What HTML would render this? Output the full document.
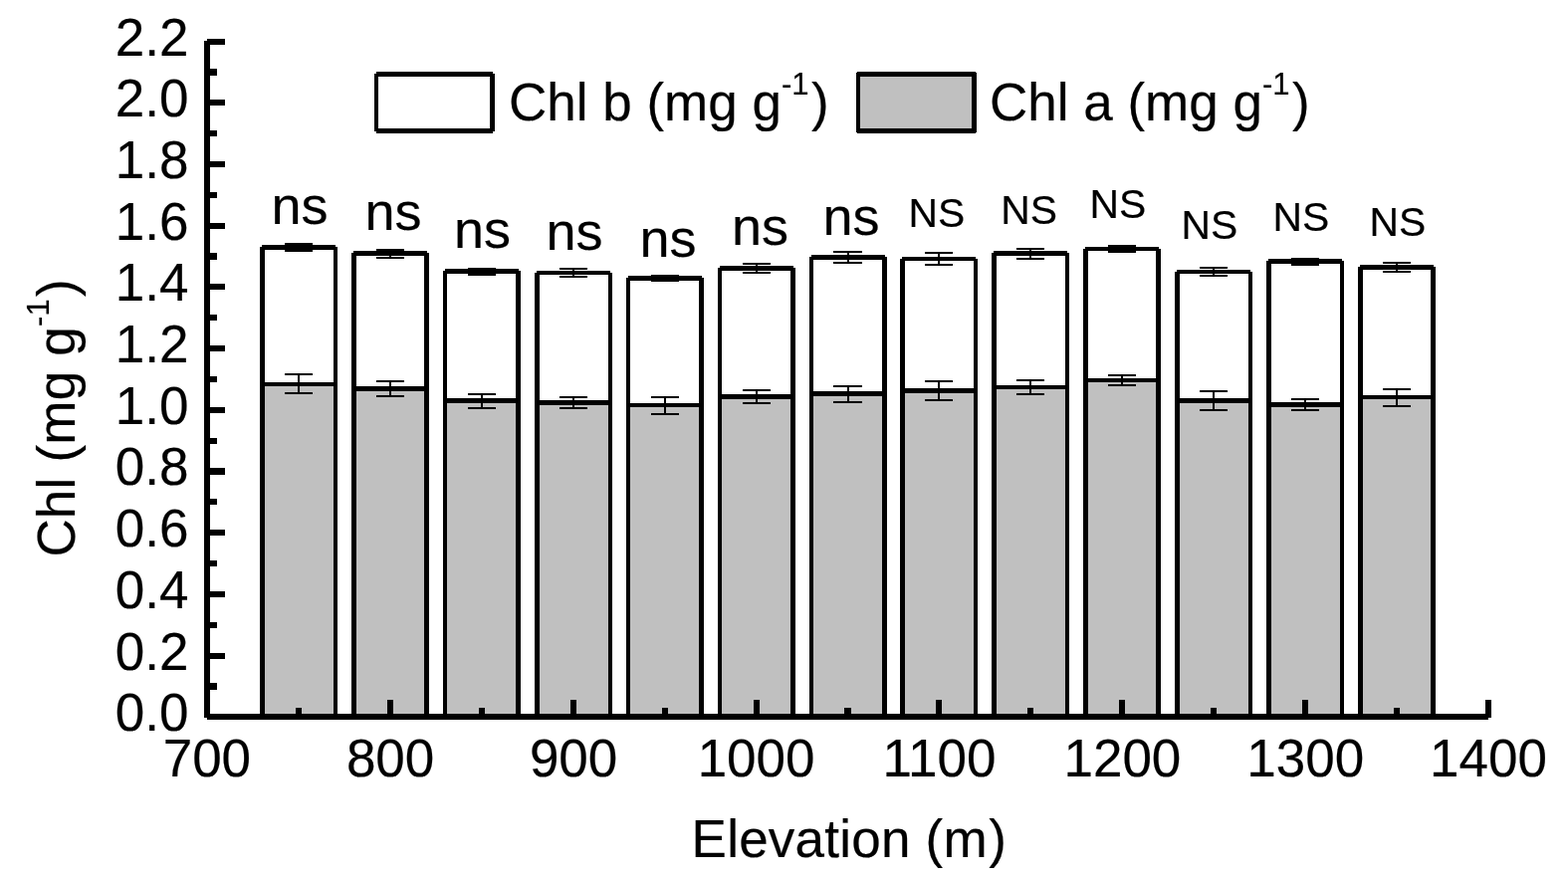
<!DOCTYPE html>
<html lang="en">
<head>
<meta charset="utf-8">
<title>Chl vs Elevation</title>
<style>
html,body{margin:0;padding:0;background:#fff;}
body{width:1575px;height:883px;overflow:hidden;}
svg{display:block;}
text{font-family:"Liberation Sans",Arial,Helvetica,sans-serif;fill:#000;stroke:#000;stroke-width:0.2px;}
.t{font-size:53px;}
.sup{font-size:31px;}
.ns{font-size:54px;}
.NS{font-size:40.8px;}
</style>
</head>
<body>
<svg width="1575" height="883" viewBox="0 0 1575 883">
<rect x="0" y="0" width="1575" height="883" fill="#fff"/>

<g shape-rendering="crispEdges" fill="#000">
<rect x="261" y="246" width="78" height="474"/>
<rect x="261" y="246" width="2" height="2" fill="#fff"/>
<rect x="337" y="246" width="2" height="2" fill="#fff"/>
<rect x="266" y="251" width="69" height="133" fill="#fff"/>
<rect x="266" y="388" width="69" height="330" fill="#c0c0c0"/>
<rect x="353" y="252" width="78" height="468"/>
<rect x="353" y="252" width="2" height="2" fill="#fff"/>
<rect x="429" y="252" width="2" height="2" fill="#fff"/>
<rect x="358" y="257" width="68" height="131" fill="#fff"/>
<rect x="358" y="393" width="68" height="325" fill="#c0c0c0"/>
<rect x="445" y="270" width="78" height="450"/>
<rect x="445" y="270" width="2" height="2" fill="#fff"/>
<rect x="521" y="270" width="2" height="2" fill="#fff"/>
<rect x="449" y="275" width="69" height="125" fill="#fff"/>
<rect x="449" y="405" width="69" height="313" fill="#c0c0c0"/>
<rect x="537" y="272" width="78" height="448"/>
<rect x="537" y="272" width="2" height="2" fill="#fff"/>
<rect x="613" y="272" width="2" height="2" fill="#fff"/>
<rect x="542" y="276" width="69" height="126" fill="#fff"/>
<rect x="542" y="407" width="69" height="311" fill="#c0c0c0"/>
<rect x="629" y="277" width="78" height="443"/>
<rect x="629" y="277" width="2" height="2" fill="#fff"/>
<rect x="705" y="277" width="2" height="2" fill="#fff"/>
<rect x="633" y="282" width="69" height="123" fill="#fff"/>
<rect x="633" y="409" width="69" height="309" fill="#c0c0c0"/>
<rect x="721" y="267" width="78" height="453"/>
<rect x="721" y="267" width="2" height="2" fill="#fff"/>
<rect x="797" y="267" width="2" height="2" fill="#fff"/>
<rect x="725" y="272" width="69" height="124" fill="#fff"/>
<rect x="725" y="401" width="69" height="317" fill="#c0c0c0"/>
<rect x="813" y="256" width="78" height="464"/>
<rect x="813" y="256" width="2" height="2" fill="#fff"/>
<rect x="889" y="256" width="2" height="2" fill="#fff"/>
<rect x="817" y="261" width="69" height="132" fill="#fff"/>
<rect x="817" y="398" width="69" height="320" fill="#c0c0c0"/>
<rect x="904" y="258" width="78" height="462"/>
<rect x="904" y="258" width="2" height="2" fill="#fff"/>
<rect x="980" y="258" width="2" height="2" fill="#fff"/>
<rect x="909" y="262" width="69" height="128" fill="#fff"/>
<rect x="909" y="395" width="69" height="323" fill="#c0c0c0"/>
<rect x="996" y="252" width="78" height="468"/>
<rect x="996" y="252" width="2" height="2" fill="#fff"/>
<rect x="1072" y="252" width="2" height="2" fill="#fff"/>
<rect x="1001" y="257" width="69" height="130" fill="#fff"/>
<rect x="1001" y="391" width="69" height="327" fill="#c0c0c0"/>
<rect x="1088" y="248" width="78" height="472"/>
<rect x="1088" y="248" width="2" height="2" fill="#fff"/>
<rect x="1164" y="248" width="2" height="2" fill="#fff"/>
<rect x="1093" y="252" width="68" height="128" fill="#fff"/>
<rect x="1093" y="384" width="68" height="334" fill="#c0c0c0"/>
<rect x="1180" y="271" width="78" height="449"/>
<rect x="1180" y="271" width="2" height="2" fill="#fff"/>
<rect x="1256" y="271" width="2" height="2" fill="#fff"/>
<rect x="1185" y="275" width="69" height="125" fill="#fff"/>
<rect x="1185" y="405" width="69" height="313" fill="#c0c0c0"/>
<rect x="1272" y="260" width="78" height="460"/>
<rect x="1272" y="260" width="2" height="2" fill="#fff"/>
<rect x="1348" y="260" width="2" height="2" fill="#fff"/>
<rect x="1277" y="265" width="69" height="139" fill="#fff"/>
<rect x="1277" y="409" width="69" height="309" fill="#c0c0c0"/>
<rect x="1364" y="266" width="78" height="454"/>
<rect x="1364" y="266" width="2" height="2" fill="#fff"/>
<rect x="1440" y="266" width="2" height="2" fill="#fff"/>
<rect x="1369" y="271" width="68" height="126" fill="#fff"/>
<rect x="1369" y="401" width="68" height="317" fill="#c0c0c0"/>
</g>
<g shape-rendering="crispEdges" fill="#000">
<rect x="286" y="244" width="28" height="2"/>
<rect x="286" y="251" width="28" height="2"/>
<rect x="299" y="244" width="2" height="9"/>
<rect x="286" y="375" width="28" height="2"/>
<rect x="286" y="394" width="28" height="2"/>
<rect x="299" y="375" width="2" height="21"/>
<rect x="378" y="250" width="28" height="2"/>
<rect x="378" y="258" width="28" height="2"/>
<rect x="391" y="250" width="2" height="10"/>
<rect x="378" y="382" width="28" height="2"/>
<rect x="378" y="397" width="28" height="2"/>
<rect x="391" y="382" width="2" height="17"/>
<rect x="470" y="269" width="28" height="2"/>
<rect x="470" y="275" width="28" height="2"/>
<rect x="483" y="269" width="2" height="8"/>
<rect x="470" y="395" width="28" height="2"/>
<rect x="470" y="409" width="28" height="2"/>
<rect x="483" y="395" width="2" height="16"/>
<rect x="562" y="269" width="28" height="2"/>
<rect x="562" y="277" width="28" height="2"/>
<rect x="575" y="269" width="2" height="10"/>
<rect x="562" y="398" width="28" height="2"/>
<rect x="562" y="409" width="28" height="2"/>
<rect x="575" y="398" width="2" height="13"/>
<rect x="654" y="276" width="28" height="2"/>
<rect x="654" y="281" width="28" height="2"/>
<rect x="667" y="276" width="2" height="7"/>
<rect x="654" y="398" width="28" height="2"/>
<rect x="654" y="415" width="28" height="2"/>
<rect x="667" y="398" width="2" height="19"/>
<rect x="746" y="264" width="28" height="2"/>
<rect x="746" y="273" width="28" height="2"/>
<rect x="759" y="264" width="2" height="11"/>
<rect x="746" y="391" width="28" height="2"/>
<rect x="746" y="404" width="28" height="2"/>
<rect x="759" y="391" width="2" height="15"/>
<rect x="837" y="252" width="29" height="2"/>
<rect x="837" y="263" width="29" height="2"/>
<rect x="851" y="252" width="2" height="13"/>
<rect x="837" y="387" width="29" height="2"/>
<rect x="837" y="403" width="29" height="2"/>
<rect x="851" y="387" width="2" height="18"/>
<rect x="929" y="253" width="28" height="2"/>
<rect x="929" y="265" width="28" height="2"/>
<rect x="942" y="253" width="2" height="14"/>
<rect x="929" y="382" width="28" height="2"/>
<rect x="929" y="401" width="28" height="2"/>
<rect x="942" y="382" width="2" height="21"/>
<rect x="1021" y="249" width="28" height="2"/>
<rect x="1021" y="259" width="28" height="2"/>
<rect x="1034" y="249" width="2" height="12"/>
<rect x="1021" y="381" width="28" height="2"/>
<rect x="1021" y="395" width="28" height="2"/>
<rect x="1034" y="381" width="2" height="16"/>
<rect x="1113" y="246" width="28" height="2"/>
<rect x="1113" y="252" width="28" height="2"/>
<rect x="1126" y="246" width="2" height="8"/>
<rect x="1113" y="376" width="28" height="2"/>
<rect x="1113" y="386" width="28" height="2"/>
<rect x="1126" y="376" width="2" height="12"/>
<rect x="1205" y="268" width="28" height="2"/>
<rect x="1205" y="276" width="28" height="2"/>
<rect x="1218" y="268" width="2" height="10"/>
<rect x="1205" y="392" width="28" height="2"/>
<rect x="1205" y="411" width="28" height="2"/>
<rect x="1218" y="392" width="2" height="21"/>
<rect x="1297" y="259" width="28" height="2"/>
<rect x="1297" y="265" width="28" height="2"/>
<rect x="1310" y="259" width="2" height="8"/>
<rect x="1297" y="400" width="28" height="2"/>
<rect x="1297" y="411" width="28" height="2"/>
<rect x="1310" y="400" width="2" height="13"/>
<rect x="1389" y="263" width="28" height="2"/>
<rect x="1389" y="272" width="28" height="2"/>
<rect x="1402" y="263" width="2" height="11"/>
<rect x="1389" y="390" width="28" height="2"/>
<rect x="1389" y="407" width="28" height="2"/>
<rect x="1402" y="390" width="2" height="19"/>
</g>
<g fill="#000" shape-rendering="crispEdges">
<rect x="205" y="41" width="6" height="680"/>
<rect x="208" y="717" width="1287" height="6"/>
<rect x="208" y="717" width="18" height="6"/>
<rect x="208" y="686" width="10" height="7"/>
<rect x="208" y="656" width="18" height="6"/>
<rect x="208" y="625" width="10" height="6"/>
<rect x="208" y="594" width="18" height="6"/>
<rect x="208" y="563" width="10" height="6"/>
<rect x="208" y="532" width="18" height="6"/>
<rect x="208" y="501" width="10" height="6"/>
<rect x="208" y="470" width="18" height="7"/>
<rect x="208" y="440" width="10" height="6"/>
<rect x="208" y="409" width="18" height="6"/>
<rect x="208" y="378" width="10" height="6"/>
<rect x="208" y="347" width="18" height="6"/>
<rect x="208" y="316" width="10" height="6"/>
<rect x="208" y="285" width="18" height="6"/>
<rect x="208" y="254" width="10" height="7"/>
<rect x="208" y="224" width="18" height="6"/>
<rect x="208" y="193" width="10" height="6"/>
<rect x="208" y="162" width="18" height="6"/>
<rect x="208" y="131" width="10" height="6"/>
<rect x="208" y="100" width="18" height="6"/>
<rect x="208" y="69" width="10" height="7"/>
<rect x="208" y="39" width="18" height="6"/>
<rect x="297" y="711" width="6" height="9"/>
<rect x="389" y="703" width="6" height="17"/>
<rect x="481" y="711" width="6" height="9"/>
<rect x="573" y="703" width="6" height="17"/>
<rect x="665" y="711" width="6" height="9"/>
<rect x="757" y="703" width="6" height="17"/>
<rect x="848" y="711" width="7" height="9"/>
<rect x="940" y="703" width="6" height="17"/>
<rect x="1032" y="711" width="6" height="9"/>
<rect x="1124" y="703" width="6" height="17"/>
<rect x="1216" y="711" width="6" height="9"/>
<rect x="1308" y="703" width="6" height="17"/>
<rect x="1400" y="711" width="6" height="9"/>
<rect x="1492" y="703" width="6" height="18"/>
</g>
<g class="t" text-anchor="end">
<text x="189.5" y="734">0.0</text>
<text x="189.5" y="673">0.2</text>
<text x="189.5" y="611">0.4</text>
<text x="189.5" y="549">0.6</text>
<text x="189.5" y="487">0.8</text>
<text x="189.5" y="426">1.0</text>
<text x="189.5" y="364">1.2</text>
<text x="189.5" y="302">1.4</text>
<text x="189.5" y="241">1.6</text>
<text x="189.5" y="179">1.8</text>
<text x="189.5" y="117">2.0</text>
<text x="189.5" y="56">2.2</text>
</g>
<g class="t" text-anchor="middle">
<text x="207.9" y="779.5">700</text>
<text x="392.1" y="779.5">800</text>
<text x="576.1" y="779.5">900</text>
<text x="759.6" y="779.5">1000</text>
<text x="943.4" y="779.5">1100</text>
<text x="1127.4" y="779.5">1200</text>
<text x="1311.3" y="779.5">1300</text>
<text x="1495.0" y="779.5">1400</text>
</g>
<text class="t" x="694.6" y="861" style="letter-spacing:0.22px">Elevation (m<tspan dx="1.5">)</tspan></text>
<text class="t" transform="translate(74.8 559.6) rotate(-90)" style="letter-spacing:0.2px">Chl (mg g<tspan dy="-26" class="sup">-1</tspan><tspan dy="26" dx="2">)</tspan></text>
<g shape-rendering="crispEdges" fill="#000">
<rect x="376" y="72" width="121" height="62"/>
<rect x="380" y="77" width="112" height="52" fill="#fff"/>
<rect x="376" y="72" width="2" height="2" fill="#fff"/>
<rect x="495" y="72" width="2" height="2" fill="#fff"/>
<rect x="376" y="132" width="2" height="2" fill="#fff"/>
<rect x="495" y="132" width="2" height="2" fill="#fff"/>
<rect x="860" y="72" width="121" height="62"/>
<rect x="864" y="77" width="112" height="52" fill="#c0c0c0"/>
<rect x="860" y="72" width="1" height="1" fill="#fff"/>
<rect x="980" y="72" width="1" height="1" fill="#fff"/>
<rect x="860" y="133" width="1" height="1" fill="#fff"/>
<rect x="980" y="133" width="1" height="1" fill="#fff"/>
</g>
<text class="t" x="511" y="121">Chl b (mg g<tspan dy="-26" class="sup">-1</tspan><tspan dy="26" dx="2.5">)</tspan></text>
<text class="t" x="994" y="121">Chl a (mg g<tspan dy="-26" class="sup">-1</tspan><tspan dy="26" dx="2.5">)</tspan></text>
<text class="ns" text-anchor="middle" x="301.1" y="224.8">ns</text>
<text class="ns" text-anchor="middle" x="395.1" y="230.8">ns</text>
<text class="ns" text-anchor="middle" x="484.6" y="248.8">ns</text>
<text class="ns" text-anchor="middle" x="577.1" y="250.8">ns</text>
<text class="ns" text-anchor="middle" x="671.1" y="257.8">ns</text>
<text class="ns" text-anchor="middle" x="763.6" y="245.8">ns</text>
<text class="ns" text-anchor="middle" x="855.1" y="235.8">ns</text>
<text class="NS" text-anchor="middle" x="940.8" y="228.0">NS</text>
<text class="NS" text-anchor="middle" x="1033.6" y="225.1">NS</text>
<text class="NS" text-anchor="middle" x="1122.8" y="219.0">NS</text>
<text class="NS" text-anchor="middle" x="1214.8" y="240.0">NS</text>
<text class="NS" text-anchor="middle" x="1306.8" y="232.0">NS</text>
<text class="NS" text-anchor="middle" x="1403.8" y="237.0">NS</text>
</svg>
</body>
</html>
